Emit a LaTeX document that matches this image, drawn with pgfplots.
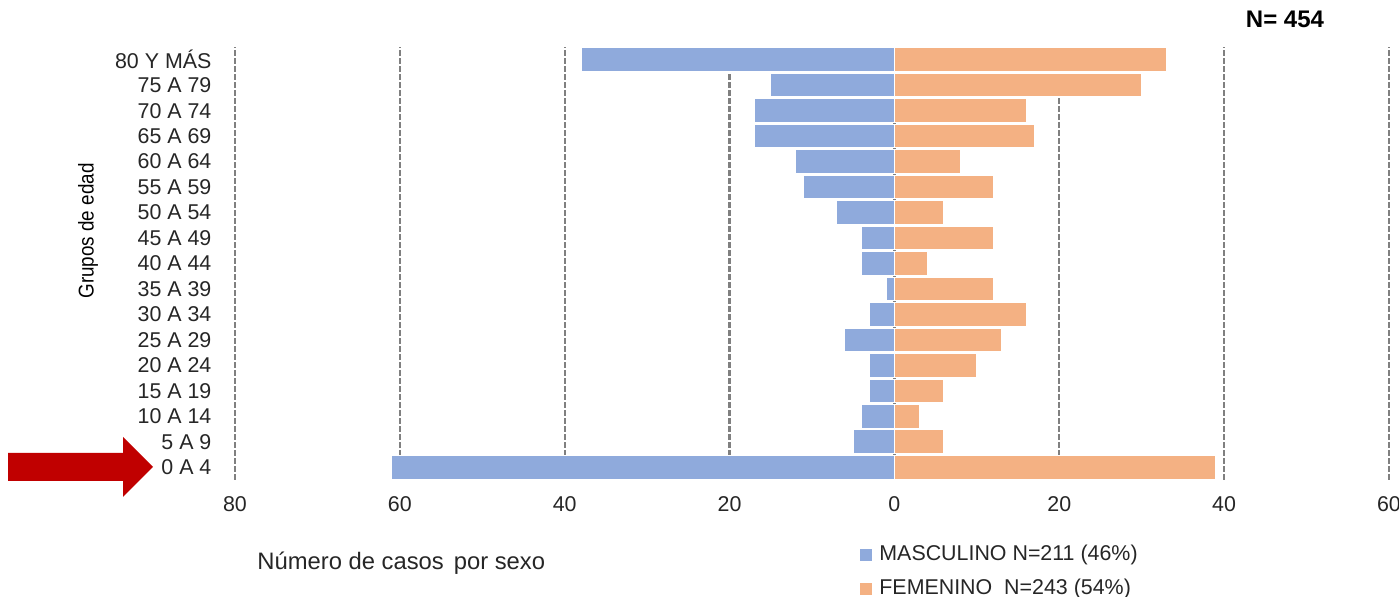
\documentclass[border=0pt]{standalone}
\usepackage{pgfplots}
\pgfplotsset{compat=1.18}
\usepackage{fontspec}
\setmainfont{Liberation Sans}
\newfontfamily\narrowfont[FakeStretch=0.88]{Liberation Sans}
\definecolor{masc}{HTML}{8FAADC}
\definecolor{fem}{HTML}{F4B183}
\definecolor{arrowred}{HTML}{C00000}
\definecolor{gridgray}{HTML}{808080}
\definecolor{txt}{HTML}{262626}
\begin{document}
\begin{tikzpicture}[x=0.5pt,y=0.5pt]
\path[use as bounding box] (0,0) rectangle (1399,597);
\begin{axis}[
  at={(117.5pt,58.5pt)}, anchor=south west,
  scale only axis, width=577pt, height=216.5pt,
  xmin=-80, xmax=60, ymin=-0.5, ymax=16.5,
  xbar, bar shift=0pt, bar width=11.8pt,
  xtick={-80,-60,-40,-20,0,20,40,60},
  ytick={0,...,16},
  yticklabels={0 A 4,5 A 9,10 A 14,15 A 19,20 A 24,25 A 29,30 A 34,35 A 39,40 A 44,45 A 49,50 A 54,55 A 59,60 A 64,65 A 69,70 A 74,75 A 79,80 Y MÁS},
  xticklabel={\pgfmathparse{abs(\tick)}\pgfmathprintnumber[fixed,precision=0]{\pgfmathresult}},
  /pgf/number format/assume math mode=true,
  axis line style={draw=none},
  major tick style={draw=none},
  xmajorgrids,
  grid style={gridgray, line width=1.1pt, dash pattern=on 3pt off 1pt},
  ticklabel style={font=\fontsize{10.7}{12}\selectfont, text=txt},
  yticklabel style={anchor=east, xshift=-4pt},
  xticklabel style={yshift=-5pt},
  legend style={at={(0.5416,-0.1515)}, anchor=north west, draw=none, fill=none,
    inner sep=0pt, row sep=7.5pt, font=\fontsize{10.7}{12}\selectfont,
    nodes={text height=7.5pt, text depth=2pt, inner sep=0pt, text=txt},
    cells={anchor=west}},
  clip=false,
]
\addplot[fill=masc, draw=white, line width=0.5pt,
  legend image code/.code={\fill[masc] (0pt,-2.75pt) rectangle (5.5pt,2.75pt);}]
  coordinates {(-61,0) (-5,1) (-4,2) (-3,3) (-3,4) (-6,5) (-3,6) (-1,7) (-4,8) (-4,9) (-7,10) (-11,11) (-12,12) (-17,13) (-17,14) (-15,15) (-38,16)};
\addlegendentry{\hspace{3.5pt}MASCULINO N=211 (46\%)}
\addplot[fill=fem, draw=white, line width=0.5pt,
  legend image code/.code={\fill[fem] (0pt,-2.75pt) rectangle (5.5pt,2.75pt);}]
  coordinates {(39,0) (6,1) (3,2) (6,3) (10,4) (13,5) (16,6) (12,7) (4,8) (12,9) (6,10) (12,11) (8,12) (17,13) (16,14) (30,15) (33,16)};
\addlegendentry{\hspace{3.5pt}FEMENINO\ \ N=243 (54\%)}
\end{axis}
\node[anchor=west, text=txt, font=\fontsize{11.9}{13}\selectfont, inner sep=0pt] at (257,34) {Número de casos\hspace{0.14em} por sexo};
\node[anchor=center, font=\bfseries\fontsize{12}{14}\selectfont, inner sep=0pt] at (1285,578) {N= 454};
\node[rotate=90, anchor=center, font=\narrowfont\fontsize{10.7}{12}\selectfont, text=black, inner sep=0pt] at (88,366) {Grupos de edad};
\fill[arrowred] (8,144) -- (123,144) -- (123,160) -- (153,130) -- (123,100) -- (123,116) -- (8,116) -- cycle;
\end{tikzpicture}
\end{document}
